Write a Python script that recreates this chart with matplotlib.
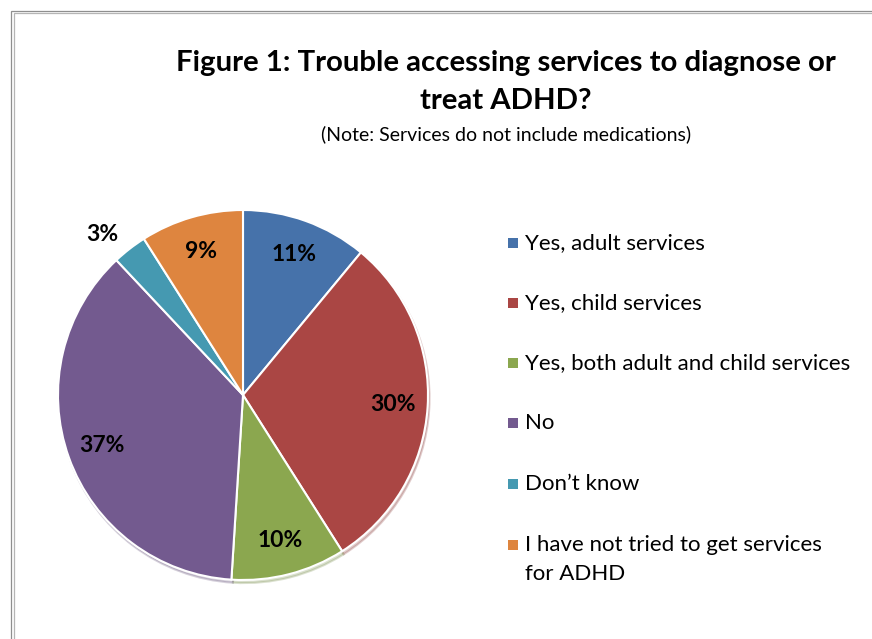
import matplotlib
matplotlib.use("Agg")
import matplotlib.pyplot as plt
from matplotlib.patches import Rectangle

plt.rcParams['font.family'] = ['Lato', 'DejaVu Sans']

categories = ["Yes, adult services", "Yes, child services",
              "Yes, both adult and child services", "No", "Don\u2019t know",
              "I have not tried to get services\nfor ADHD"]
values = [11, 30, 10, 37, 3, 9]
colors = ["#4672AA", "#AA4644", "#8BA74F", "#735A8F", "#4599B1", "#DE853F"]

fig = plt.figure(figsize=(8.72, 6.39), dpi=100)
W, H = 872.0, 639.0

# chart border (top and left visible)
for off, col in [(11, "#8f8f8f"), (13.5, "#b5b5b5")]:
    fig.add_artist(Rectangle((off / W, -0.1), 1.2, 1.1 - off / H,
                             transform=fig.transFigure, fill=False,
                             edgecolor=col, lw=0.9))

fig.text(506 / W, 1 - 63 / H, "Figure 1: Trouble accessing services to diagnose or",
         ha="center", va="center", fontsize=21.2, fontweight="bold")
fig.text(506 / W, 1 - 101 / H, "treat ADHD?",
         ha="center", va="center", fontsize=21.2, fontweight="bold")
fig.text(506 / W, 1 - 134 / H, "(Note: Services do not include medications)",
         ha="center", va="center", fontsize=14)

cx, cy, r = 243, 395, 185
ax = fig.add_axes([(cx - r) / W, (H - cy - r) / H, 2 * r / W, 2 * r / H])
wedges, texts, autotexts = ax.pie(
    values, colors=colors, startangle=90, counterclock=False,
    autopct=lambda p: "%d%%" % round(p), pctdistance=0.81,
    wedgeprops=dict(edgecolor="white", linewidth=1.5),
    textprops=dict(fontsize=16.5, fontweight="bold", color="black"),
    shadow=dict(ox=0.006, oy=-0.012, shade=0.2, alpha=0.25))
# small slice label sits outside
x, y = autotexts[4].get_position()
autotexts[4].set_position((x * 1.16 / 0.81 - 0.05, y * 1.16 / 0.81 - 0.05))
ax.set_xlim(-1, 1)
ax.set_ylim(-1, 1)
ax.axis("off")

# legend drawn by hand so the marker sits on the first line
rows = [243, 303, 363, 423, 484, 545]
for lab, col, ry in zip(categories, colors, rows):
    fig.add_artist(Rectangle((508 / W, 1 - (ry + 5) / H), 10 / W, 10 / H,
                             transform=fig.transFigure, facecolor=col,
                             edgecolor="none"))
    fig.text(525 / W, 1 - (ry - 10) / H, lab, ha="left", va="top",
             fontsize=16, linespacing=1.57)

fig.savefig("out.png", dpi=100, facecolor="white")
